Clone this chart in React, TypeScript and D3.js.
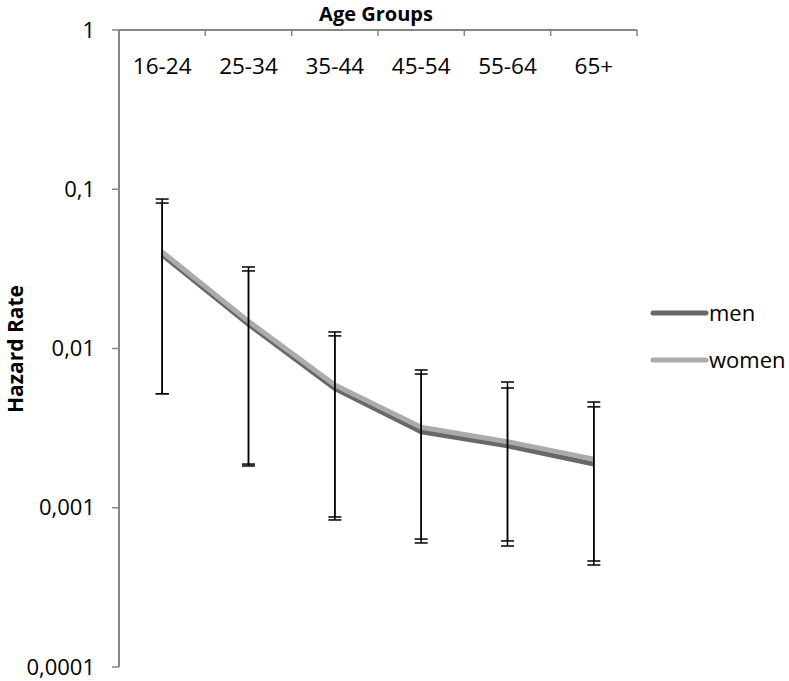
import React from "react";
import * as d3 from "d3";

const categories = ["16-24", "25-34", "35-44", "45-54", "55-64", "65+"];
const menValues = [0.0387, 0.0142, 0.0056, 0.0030, 0.00245, 0.00188];
const womenValues = [0.0404, 0.0148, 0.0059, 0.0032, 0.0026, 0.00202];
const menUpper = [0.0819, 0.0307, 0.0120, 0.00691, 0.00565, 0.0043];
const womenUpper = [0.0868, 0.0325, 0.0127, 0.00733, 0.00616, 0.00461];
const menLower = [0.0052, 0.00188, 0.000875, 0.000636, 0.000619, 0.000463];
const womenLower = [0.0052, 0.00183, 0.000838, 0.000601, 0.000575, 0.000437];
const yTicks = [1, 0.1, 0.01, 0.001, 0.0001];
const yTickLabels = ["1", "0,1", "0,01", "0,001", "0,0001"];
const seriesNames = ["men", "women"];

const W = 789;
const H = 681;
const FONT = "'Open Sans', sans-serif";
const AXIS = "#868686";
const MEN = "#686868";
const WOMEN = "#ababab";

export default function App() {
  const x = d3.scaleBand<string>().domain(categories).range([119, 637]);
  const y = d3.scaleLog().domain([0.0001, 1]).range([667, 30]);
  const cx = (c: string) => (x(c) as number) + x.bandwidth() / 2;
  const line = d3
    .line<number>()
    .x((_, i) => cx(categories[i]))
    .y((d) => y(d));

  const series = [
    { name: seriesNames[0], values: menValues, up: menUpper, lo: menLower, color: MEN },
    { name: seriesNames[1], values: womenValues, up: womenUpper, lo: womenLower, color: WOMEN },
  ];
  const boundaries = categories.map((c) => (x(c) as number) + x.bandwidth());

  return (
    <svg
      width={W}
      height={H}
      style={{ position: "absolute", left: 0, top: 0, background: "#fff" }}
      fontFamily={FONT}
    >
      {/* title */}
      <text x={376} y={21} textAnchor="middle" fontSize={20} fontWeight="bold" fill="#000">
        Age Groups
      </text>
      {/* y-axis title */}
      <text
        transform={`translate(23,349) rotate(-90)`}
        textAnchor="middle"
        fontSize={21}
        fontWeight="bold"
        fill="#000"
      >
        Hazard Rate
      </text>

      {/* y axis */}
      <line x1={119} x2={119} y1={y(1)} y2={y(0.0001)} stroke={AXIS} strokeWidth={2} />
      {yTicks.map((t, i) => (
        <g key={t}>
          <line x1={112} x2={119} y1={y(t)} y2={y(t)} stroke={AXIS} strokeWidth={1.5} />
          <text x={95} y={y(t)} dy="0.35em" textAnchor="end" fontSize={22} fill="#000">
            {yTickLabels[i]}
          </text>
        </g>
      ))}

      {/* top category axis */}
      <line x1={118} x2={637} y1={y(1)} y2={y(1)} stroke={AXIS} strokeWidth={2} />
      {boundaries.map((b) => (
        <line key={b} x1={b} x2={b} y1={y(1)} y2={y(1) + 6} stroke={AXIS} strokeWidth={1.5} />
      ))}
      {categories.map((c) => (
        <text key={c} x={cx(c)} y={74} textAnchor="middle" fontSize={22.5} fill="#000">
          {c}
        </text>
      ))}

      {/* lines */}
      {series.map((s) => (
        <path
          key={s.name}
          d={line(s.values) as string}
          fill="none"
          stroke={s.color}
          strokeWidth={5}
          strokeLinejoin="round"
        />
      ))}

      {/* error bars */}
      {series.map((s) =>
        categories.map((c, i) => {
          const px = cx(c);
          return (
            <g key={s.name + c} stroke="#000" strokeWidth={1.5}>
              <line x1={px} x2={px} y1={y(s.up[i])} y2={y(s.lo[i])} />
              <line x1={px - 6.5} x2={px + 6.5} y1={y(s.up[i])} y2={y(s.up[i])} />
              <line x1={px - 6.5} x2={px + 6.5} y1={y(s.lo[i])} y2={y(s.lo[i])} />
            </g>
          );
        })
      )}

      {/* legend */}
      {series.map((s, i) => {
        const ly = 313 + i * 47;
        return (
          <g key={s.name}>
            <line x1={653} x2={706} y1={ly} y2={ly} stroke={s.color} strokeWidth={5} strokeLinecap="round" />
            <text x={709} y={ly} dy="0.35em" fontSize={22} fill="#000">
              {s.name}
            </text>
          </g>
        );
      })}
    </svg>
  );
}
